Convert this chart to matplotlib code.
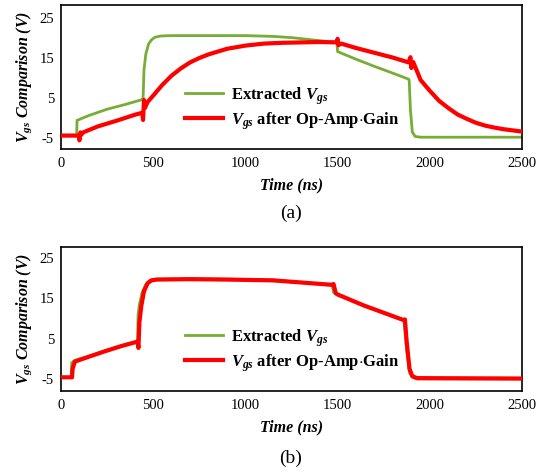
import numpy as np
import matplotlib
matplotlib.use("Agg")
import matplotlib.pyplot as plt

plt.rcParams['font.family'] = ['Liberation Serif', 'DejaVu Serif']
plt.rcParams['mathtext.fontset'] = 'custom'
plt.rcParams['mathtext.it'] = 'Liberation Serif:italic:bold'
plt.rcParams['mathtext.rm'] = 'Liberation Serif:bold'
plt.rcParams['mathtext.bf'] = 'Liberation Serif:bold'
plt.rcParams['axes.unicode_minus'] = False

# (a) waveforms: time in ns, voltage in V
t_ext_a = [0, 85, 87, 150, 250, 350, 440, 445, 450, 460, 475, 490, 510, 540, 600, 800,
           1000, 1150, 1250, 1350, 1450, 1496, 1500, 1600, 1700, 1800, 1885, 1888,
           1895, 1905, 1920, 1950, 2200, 2500]
v_ext_a = [-4.3, -4.3, -0.6, 0.6, 2.2, 3.4, 4.6, 4.7, 12.0, 16.0, 18.5, 19.5, 20.2, 20.5,
           20.6, 20.6, 20.6, 20.4, 20.1, 19.6, 19.1, 19.0, 16.6, 14.7, 12.9, 11.2, 9.7,
           9.5, 2.0, -3.5, -4.6, -4.8, -4.8, -4.8]

t_amp_a = [0, 95, 100, 105, 110, 120, 200, 300, 400, 440, 445, 450, 455, 470, 500, 550,
           600, 650, 700, 750, 800, 900, 1000, 1100, 1200, 1300, 1400, 1495, 1500, 1505,
           1520, 1600, 1700, 1800, 1885, 1895, 1900, 1910, 1950, 2000, 2050, 2100, 2150,
           2200, 2250, 2300, 2350, 2400, 2450, 2500]
v_amp_a = [-4.4, -4.4, -5.6, -3.6, -4.2, -3.6, -2.1, -0.7, 0.8, 1.3, -0.5, 4.5, 2.5, 4.0,
           5.6, 8.3, 10.6, 12.4, 13.9, 15.0, 15.9, 17.3, 18.1, 18.6, 18.8, 18.9, 19.0,
           18.9, 19.8, 18.2, 18.6, 17.5, 16.3, 15.1, 13.9, 15.2, 12.5, 14.0, 9.5, 6.8,
           4.3, 2.5, 0.9, -0.2, -1.2, -1.9, -2.4, -2.8, -3.1, -3.4]

# (b) waveforms
t_ext_b = [0, 55, 58, 70, 100, 150, 240, 330, 410, 415, 418, 425, 440, 460, 480, 510,
           700, 900, 1150, 1470, 1478, 1500, 1640, 1860, 1875, 1890, 1905, 1930, 2500]
v_ext_b = [-4.6, -4.6, -1.0, -0.5, 0.0, 0.6, 2.0, 3.3, 4.3, 4.4, 11.0, 13.5, 16.5, 18.5,
           19.4, 19.8, 19.9, 19.8, 19.6, 18.3, 16.5, 15.9, 13.3, 9.5, 2.0, -3.5, -4.6,
           -5.0, -5.0]

t_amp_b = [0, 60, 63, 75, 150, 240, 330, 410, 415, 420, 425, 435, 450, 470, 490, 520,
           700, 900, 1150, 1470, 1478, 1490, 1500, 1640, 1860, 1865, 1875, 1890, 1905,
           1930, 2500]
v_amp_b = [-4.6, -4.6, -2.5, -0.7, 0.5, 1.9, 3.2, 4.2, 4.3, 2.7, 9.0, 13.0, 16.8, 18.8,
           19.5, 19.7, 19.8, 19.7, 19.5, 18.4, 18.6, 16.3, 16.0, 13.3, 9.6, 9.8, 4.0,
           -2.5, -4.3, -4.8, -4.9]

x_ticks = [0, 500, 1000, 1500, 2000, 2500]
y_ticks = [-5, 5, 15, 25]

green = '#76AD35'
red = '#FF0000'

fig = plt.figure(figsize=(5.48, 4.73), dpi=100)
ax_a = fig.add_axes([0.1113, 0.685, 0.8413, 0.3044])
ax_b = fig.add_axes([0.1113, 0.1734, 0.8413, 0.3044])

panels = [
    (ax_a, t_ext_a, v_ext_a, t_amp_a, v_amp_a, (-7.75, 28.25), '(a)', 0.548),
    (ax_b, t_ext_b, v_ext_b, t_amp_b, v_amp_b, (-8.0, 27.8), '(b)', 0.030),
]

for ax, te, ve, ta, va, ylim, tag, tag_y in panels:
    ax.plot(te, ve, color=green, lw=2.0, label=r'Extracted $V_{gs}$', zorder=2)
    ax.plot(ta, va, color=red, lw=3.0, label=r'$V_{gs}$ after Op-Amp$\cdot$Gain', zorder=3)
    ax.set_xlim(0, 2500)
    ax.set_ylim(*ylim)
    ax.set_xticks(x_ticks)
    ax.set_yticks(y_ticks)
    ax.tick_params(length=0, labelsize=10.5, pad=6)
    ax.tick_params(axis='y', pad=5)
    for sp in ax.spines.values():
        sp.set_linewidth(1.2)
        sp.set_color('black')
    ax.set_xlabel('Time (ns)', fontsize=11.5, fontweight='bold', style='italic', labelpad=5)
    ax.set_ylabel(r'$V_{gs}$ Comparison (V)', fontsize=11.5, fontweight='bold',
                  style='italic', labelpad=4)
    ax.legend(loc='center left', bbox_to_anchor=(0.268, 0.283), frameon=False,
              prop={'weight': 'bold', 'size': 12}, handlelength=2.3,
              handletextpad=0.5, labelspacing=0.2, borderpad=0, borderaxespad=0)
    fig.text(0.531, tag_y, tag, ha='center', va='center', fontsize=14)

fig.savefig('out.png', dpi=100)
